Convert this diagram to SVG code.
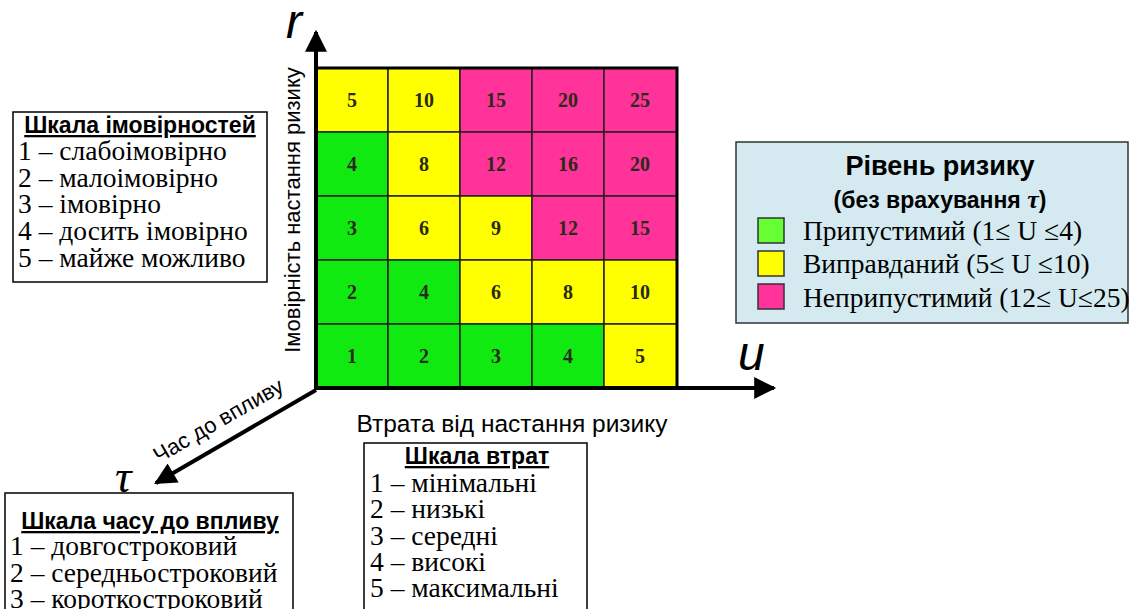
<svg xmlns="http://www.w3.org/2000/svg" width="1136" height="609" viewBox="0 0 1136 609">
  <defs>
    <marker id="arrow" viewBox="0 0 10 10" refX="9" refY="5" markerWidth="7" markerHeight="5.5" orient="auto" markerUnits="strokeWidth">
      <path d="M0,0 L10,5 L0,10 z" fill="#000"/>
    </marker>
    <style>
      .box { fill: #fff; stroke: #000; stroke-width: 1.5; }
      .legend { fill: #d4eaf0; stroke: #333; stroke-width: 1.5; }
      .title { font-family: "Liberation Sans", Arial, sans-serif; font-weight: bold; font-size: 23px; text-decoration: underline; }
      .item { font-family: "Liberation Serif", "Times New Roman", serif; font-size: 27.5px; }
      .axis { stroke: #000; stroke-width: 4; fill: none; }
      .axislbl { font-family: "Liberation Sans", Arial, sans-serif; font-size: 22px; }
      .axislbl.wide { font-size: 24.5px; }
      .var { font-family: "Liberation Sans", Arial, sans-serif; font-style: italic; font-size: 48px; }
      .cell { stroke: #222; stroke-width: 1.5; }
      .g { fill: #11ea11; }
      .y { fill: #ffff00; }
      .p { fill: #ff3399; }
      .num { font-family: "Liberation Serif", "Times New Roman", serif; font-weight: bold; font-size: 20px; fill: #2a2a1a; text-anchor: middle; }
    </style>
  </defs>
  <rect width="1136" height="609" fill="#fff"/>

  <!-- risk matrix -->
  <g id="matrix">
    <rect class="cell y" x="316" y="68" width="72" height="64"/>
    <rect class="cell y" x="388" y="68" width="72" height="64"/>
    <rect class="cell p" x="460" y="68" width="72" height="64"/>
    <rect class="cell p" x="532" y="68" width="72" height="64"/>
    <rect class="cell p" x="604" y="68" width="73" height="64"/>

    <rect class="cell g" x="316" y="132" width="72" height="64"/>
    <rect class="cell y" x="388" y="132" width="72" height="64"/>
    <rect class="cell p" x="460" y="132" width="72" height="64"/>
    <rect class="cell p" x="532" y="132" width="72" height="64"/>
    <rect class="cell p" x="604" y="132" width="73" height="64"/>

    <rect class="cell g" x="316" y="196" width="72" height="64"/>
    <rect class="cell y" x="388" y="196" width="72" height="64"/>
    <rect class="cell y" x="460" y="196" width="72" height="64"/>
    <rect class="cell p" x="532" y="196" width="72" height="64"/>
    <rect class="cell p" x="604" y="196" width="73" height="64"/>

    <rect class="cell g" x="316" y="260" width="72" height="64"/>
    <rect class="cell g" x="388" y="260" width="72" height="64"/>
    <rect class="cell y" x="460" y="260" width="72" height="64"/>
    <rect class="cell y" x="532" y="260" width="72" height="64"/>
    <rect class="cell y" x="604" y="260" width="73" height="64"/>

    <rect class="cell g" x="316" y="324" width="72" height="64"/>
    <rect class="cell g" x="388" y="324" width="72" height="64"/>
    <rect class="cell g" x="460" y="324" width="72" height="64"/>
    <rect class="cell g" x="532" y="324" width="72" height="64"/>
    <rect class="cell y" x="604" y="324" width="73" height="64"/>

    <rect x="316" y="68" width="361" height="320" fill="none" stroke="#000" stroke-width="3"/>

    <text class="num" x="352" y="107">5</text>
    <text class="num" x="424" y="107">10</text>
    <text class="num" x="496" y="107">15</text>
    <text class="num" x="568" y="107">20</text>
    <text class="num" x="640" y="107">25</text>

    <text class="num" x="352" y="171">4</text>
    <text class="num" x="424" y="171">8</text>
    <text class="num" x="496" y="171">12</text>
    <text class="num" x="568" y="171">16</text>
    <text class="num" x="640" y="171">20</text>

    <text class="num" x="352" y="235">3</text>
    <text class="num" x="424" y="235">6</text>
    <text class="num" x="496" y="235">9</text>
    <text class="num" x="568" y="235">12</text>
    <text class="num" x="640" y="235">15</text>

    <text class="num" x="352" y="299">2</text>
    <text class="num" x="424" y="299">4</text>
    <text class="num" x="496" y="299">6</text>
    <text class="num" x="568" y="299">8</text>
    <text class="num" x="640" y="299">10</text>

    <text class="num" x="352" y="363">1</text>
    <text class="num" x="424" y="363">2</text>
    <text class="num" x="496" y="363">3</text>
    <text class="num" x="568" y="363">4</text>
    <text class="num" x="640" y="363">5</text>
  </g>

  <!-- axes -->
  <g id="connectors">
    <line class="axis" x1="316" y1="390" x2="316" y2="32" marker-end="url(#arrow)"/>
    <line class="axis" x1="314" y1="388" x2="774" y2="388" marker-end="url(#arrow)"/>
    <line class="axis" x1="316" y1="390" x2="156" y2="483" marker-end="url(#arrow)"/>
  </g>

  <g id="axis-labels">
    <text class="var" x="286" y="38">r</text>
    <text class="var" x="738" y="370">u</text>
    <text x="115" y="492" font-family="Liberation Serif, Times New Roman, serif" font-style="italic" font-size="46">τ</text>
    <text class="axislbl" transform="translate(300,210) rotate(-90)" text-anchor="middle">Імовірність настання ризику</text>
    <text class="axislbl wide" x="512" y="432" text-anchor="middle">Втрата від настання ризику</text>
    <text class="axislbl" transform="translate(222,427) rotate(-30)" text-anchor="middle">Час до впливу</text>
  </g>

  <!-- probability scale -->
  <g id="scale-probability">
    <rect class="box" x="13" y="112" width="254" height="170"/>
    <text class="title" x="140" y="133" text-anchor="middle">Шкала імовірностей</text>
    <text class="item" x="18" y="160">1 – слабоімовірно</text>
    <text class="item" x="18" y="187">2 – малоімовірно</text>
    <text class="item" x="18" y="213">3 – імовірно</text>
    <text class="item" x="18" y="240">4 – досить імовірно</text>
    <text class="item" x="18" y="267">5 – майже можливо</text>
  </g>

  <!-- risk level legend -->
  <g id="legend-risk-level">
    <rect class="legend" x="736" y="142" width="392" height="181"/>
    <text x="940" y="175" text-anchor="middle" font-family="Liberation Sans, Arial, sans-serif" font-weight="bold" font-size="27">Рівень ризику</text>
    <text x="940" y="208" text-anchor="middle" font-family="Liberation Sans, Arial, sans-serif" font-weight="bold" font-size="23">(без врахування <tspan font-family="Liberation Serif, Times New Roman, serif" font-style="italic" font-size="26">τ</tspan>)</text>
    <rect x="758" y="218" width="26" height="25" fill="#66ff33" stroke="#333" stroke-width="1.5"/>
    <rect x="758" y="251" width="26" height="25" fill="#ffff00" stroke="#333" stroke-width="1.5"/>
    <rect x="758" y="284" width="26" height="25" fill="#ff3399" stroke="#333" stroke-width="1.5"/>
    <text class="item" x="803" y="240">Припустимий (1≤ U ≤4)</text>
    <text class="item" x="803" y="273">Виправданий (5≤ U ≤10)</text>
    <text class="item" x="803" y="307">Неприпустимий (12≤ U≤25)</text>
  </g>

  <!-- loss scale -->
  <g id="scale-loss">
    <rect class="box" x="364" y="443" width="223" height="180"/>
    <text class="title" x="477" y="464" text-anchor="middle">Шкала втрат</text>
    <text class="item" x="370" y="492">1 – мінімальні</text>
    <text class="item" x="370" y="518">2 – низькі</text>
    <text class="item" x="370" y="545">3 – середні</text>
    <text class="item" x="370" y="571">4 – високі</text>
    <text class="item" x="370" y="597">5 – максимальні</text>
  </g>

  <!-- time-to-impact scale -->
  <g id="scale-time">
    <rect class="box" x="5" y="493" width="288" height="130"/>
    <text class="title" x="150" y="529" text-anchor="middle">Шкала часу до впливу</text>
    <text class="item" x="10" y="555">1 – довгостроковий</text>
    <text class="item" x="10" y="582">2 – середньостроковий</text>
    <text class="item" x="10" y="608">3 – короткостроковий</text>
  </g>
</svg>
